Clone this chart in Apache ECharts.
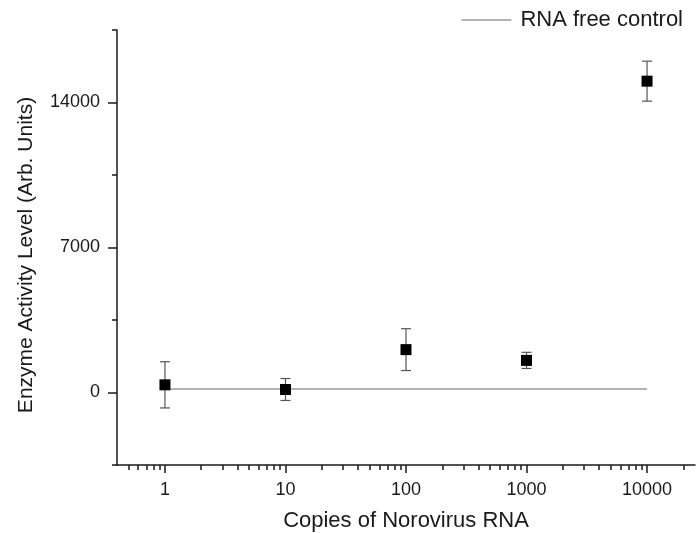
<!DOCTYPE html>
<html>
<head>
<meta charset="utf-8">
<script src="https://cdn.jsdelivr.net/npm/echarts@6/dist/echarts.min.js"></script>
<style>
html,body{margin:0;padding:0;background:#fff;}
#chart{width:696px;height:533px;}
</style>
</head>
<body>
<div id="chart"></div>
<script>
// ---- data ----
var copies = [1, 10, 100, 1000, 10000];
var activityMean = [370, 145, 2070, 1550, 15030];
var activityErr = [1115, 530, 1010, 390, 965];
var controlX = [1, 10000];
var controlY = [175, 175];
var xMajorTicks = [1, 10, 100, 1000, 10000];
var xMinorTicks = [0.5, 0.6, 0.7, 0.8, 0.9,
  2, 3, 4, 5, 6, 7, 8, 9,
  20, 30, 40, 50, 60, 70, 80, 90,
  200, 300, 400, 500, 600, 700, 800, 900,
  2000, 3000, 4000, 5000, 6000, 7000, 8000, 9000,
  20000];
var yMajorTicks = [0, 7000, 14000];
var yMinorTicks = [-3500, 3500, 10500, 17500];

var FONT = 'Liberation Sans, Arial, sans-serif';
var TXT = '#1a1a1a';

var points = copies.map(function (c, i) { return [c, activityMean[i]]; });
var errData = copies.map(function (c, i) {
  return [c, activityMean[i] - activityErr[i], activityMean[i] + activityErr[i]];
});
var controlData = controlX.map(function (c, i) { return [c, controlY[i]]; });

var chart = echarts.init(document.getElementById('chart'), null, {renderer: 'canvas'});
var axisLineStyle = {color: '#1a1a1a', width: 1.5};
chart.setOption({
  animation: false,
  backgroundColor: '#fff',
  grid: {left: 117, right: 1, top: 30, bottom: 68, containLabel: false, outerBoundsMode: 'none'},
  legend: {
    data: [{name: 'RNA free control', icon: 'rect'}],
    right: 8, top: 4,
    itemWidth: 50, itemHeight: 1.5, itemGap: 8,
    itemStyle: {color: '#9a9a9a'},
    textStyle: {fontFamily: FONT, fontSize: 22, color: TXT, padding: [0, 0, 0, 4]}
  },
  xAxis: [{
    type: 'log', min: 0.4, max: 25000, logBase: 10,
    name: 'Copies of Norovirus RNA', nameLocation: 'middle', nameGap: 45,
    nameTextStyle: {fontFamily: FONT, fontSize: 22, color: TXT},
    axisLine: {show: true, onZero: false, lineStyle: axisLineStyle},
    axisTick: {show: true, inside: false, length: 8, customValues: xMajorTicks, lineStyle: axisLineStyle},
    axisLabel: {customValues: xMajorTicks, margin: 16, fontFamily: FONT, fontSize: 18, color: TXT,
      formatter: function (v) { return String(Math.round(v)); }},
    splitLine: {show: false}, minorTick: {show: false}
  }, {
    type: 'log', min: 0.4, max: 25000, logBase: 10, position: 'bottom',
    axisLine: {show: false, onZero: false},
    axisTick: {show: true, inside: false, length: 5, customValues: xMinorTicks, lineStyle: axisLineStyle},
    axisLabel: {show: false}, splitLine: {show: false}
  }],
  yAxis: [{
    type: 'value', min: -3500, max: 17500, interval: 3500,
    name: 'Enzyme Activity Level (Arb. Units)', nameLocation: 'middle', nameGap: 80,
    nameTextStyle: {fontFamily: FONT, fontSize: 21, color: TXT, padding: [0, 15, 0, 0]},
    axisLine: {show: true, onZero: false, lineStyle: axisLineStyle},
    axisTick: {show: true, inside: false, length: 9, customValues: yMajorTicks, lineStyle: axisLineStyle},
    axisLabel: {customValues: yMajorTicks, margin: 17, fontFamily: FONT, fontSize: 18, color: TXT,
      formatter: function (v) { return String(v); }},
    splitLine: {show: false}
  }, {
    type: 'value', min: -3500, max: 17500, interval: 3500, position: 'left',
    axisLine: {show: false, onZero: false},
    axisTick: {show: true, inside: false, length: 5, customValues: yMinorTicks, lineStyle: axisLineStyle},
    axisLabel: {show: false}, splitLine: {show: false}
  }],
  series: [{
    name: 'RNA free control',
    type: 'line', xAxisIndex: 0, yAxisIndex: 0,
    data: controlData, symbol: 'none',
    lineStyle: {color: '#9a9a9a', width: 1.5},
    itemStyle: {color: '#9a9a9a'},
    z: 1
  }, {
    name: 'err', type: 'custom', xAxisIndex: 0, yAxisIndex: 0,
    data: errData,
    renderItem: function (params, api) {
      var x = api.value(0);
      var lo = api.coord([x, api.value(1)]);
      var hi = api.coord([x, api.value(2)]);
      var hw = 5;
      var st = {stroke: '#555', lineWidth: 1.2};
      return {type: 'group', children: [
        {type: 'line', shape: {x1: lo[0], y1: lo[1], x2: hi[0], y2: hi[1]}, style: st},
        {type: 'line', shape: {x1: lo[0] - hw, y1: lo[1], x2: lo[0] + hw, y2: lo[1]}, style: st},
        {type: 'line', shape: {x1: hi[0] - hw, y1: hi[1], x2: hi[0] + hw, y2: hi[1]}, style: st}
      ]};
    },
    z: 2
  }, {
    name: 'mean', type: 'scatter', xAxisIndex: 0, yAxisIndex: 0,
    data: points, symbol: 'rect', symbolSize: 11,
    itemStyle: {color: '#000', opacity: 1},
    z: 3
  }]
});
</script>
</body>
</html>
